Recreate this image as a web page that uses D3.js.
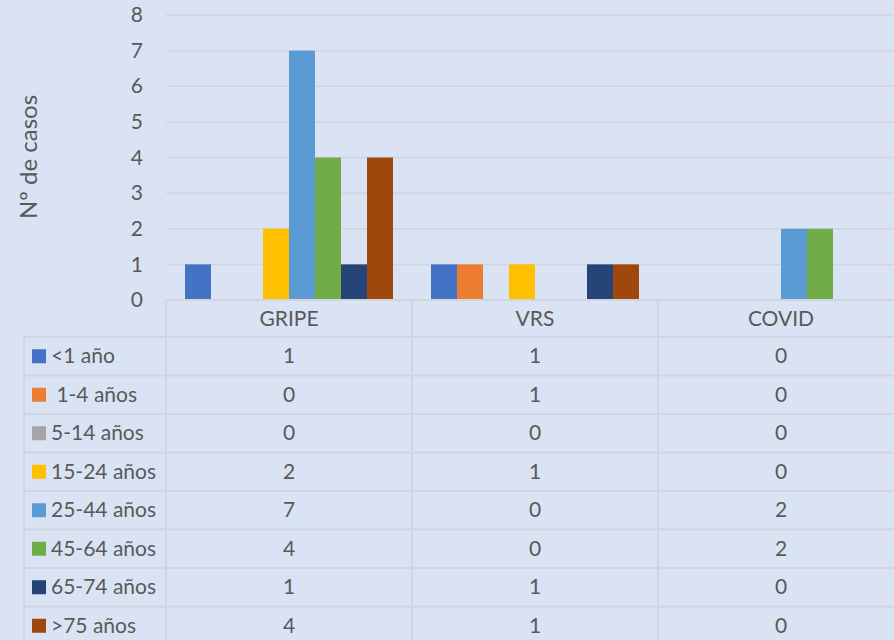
<!DOCTYPE html>
<html>
<head>
<meta charset="utf-8">
<script src="https://cdn.jsdelivr.net/npm/d3@7"></script>
<style>
  body { margin: 0; background: #dae3f3; }
  svg { display: block; }
  text { font-family: Lato, "Open Sans", sans-serif; fill: #595959; }
</style>
</head>
<body>
<svg id="chart" width="894" height="640"></svg>
<script>
// categories and series
var categories = ["GRIPE", "VRS", "COVID"];
var series = ["<1 año", " 1-4 años", "5-14 años", "15-24 años", "25-44 años", "45-64 años", "65-74 años", ">75 años"];
var colors = ["#4472c4", "#ed7d31", "#a5a5a5", "#ffc000", "#5b9bd5", "#70ad47", "#264478", "#9e480e"];
var values = [
  [1, 1, 0],
  [0, 1, 0],
  [0, 0, 0],
  [2, 1, 0],
  [7, 0, 2],
  [4, 0, 2],
  [1, 1, 0],
  [4, 1, 0]
];
var yTicks = [0, 1, 2, 3, 4, 5, 6, 7, 8];

var svg = d3.select("#chart");
var W = 894, H = 640;
var plotLeft = 166, plotTop = 15, plotBottom = 300;
var tableLeft = 24, headerH = 37, rowH = 38.5;
var gridColor = "#d0d5de";
var fs = "21px";

var x = d3.scaleBand().domain(categories).range([plotLeft, plotLeft + 246 * 3]);
var xs = d3.scaleBand().domain(d3.range(series.length)).range([19, x.bandwidth() - 19]);
var y = d3.scaleLinear().domain([0, 8]).range([plotBottom, plotTop]);

// gridlines
svg.append("g").selectAll("line").data(yTicks.slice(1)).join("line")
  .attr("x1", plotLeft).attr("x2", W)
  .attr("y1", d => y(d)).attr("y2", d => y(d))
  .attr("stroke", gridColor).attr("stroke-width", 1.5);

// y axis labels
var yAxis = d3.axisLeft(y).tickValues(yTicks).tickSize(0).tickPadding(0);
var ya = svg.append("g").attr("transform", "translate(143,0)").call(yAxis);
ya.select(".domain").remove();
ya.selectAll("text").style("font-size", fs).style("font-family", "Lato, sans-serif").attr("fill", "#595959");

// axis title
svg.append("text")
  .attr("transform", "translate(37,157) rotate(-90)")
  .attr("text-anchor", "middle")
  .style("font-size", "24px")
  .text("Nº de casos");

// bars
series.forEach(function (s, i) {
  svg.append("g").selectAll("rect").data(values[i]).join("rect")
    .attr("x", (d, j) => x(categories[j]) + xs(i))
    .attr("width", xs.bandwidth())
    .attr("y", d => y(d))
    .attr("height", d => y(0) - y(d))
    .attr("fill", colors[i]);
});

// data table
var tableBottom = plotBottom + headerH + rowH * series.length;
var tg = svg.append("g");
tg.append("line").attr("x1", plotLeft).attr("x2", W).attr("y1", plotBottom).attr("y2", plotBottom)
  .attr("stroke", gridColor).attr("stroke-width", 2);
d3.range(series.length + 1).forEach(function (r) {
  var yy = plotBottom + headerH + r * rowH;
  tg.append("line").attr("x1", tableLeft).attr("x2", W).attr("y1", yy).attr("y2", yy)
    .attr("stroke", gridColor).attr("stroke-width", 2);
});
tg.append("line").attr("x1", tableLeft).attr("x2", tableLeft)
  .attr("y1", plotBottom + headerH).attr("y2", tableBottom)
  .attr("stroke", gridColor).attr("stroke-width", 2);
categories.forEach(function (c) {
  tg.append("line").attr("x1", x(c)).attr("x2", x(c))
    .attr("y1", plotBottom).attr("y2", tableBottom)
    .attr("stroke", gridColor).attr("stroke-width", 2);
});

// header labels
tg.selectAll("text.cat").data(categories).join("text").attr("class", "cat")
  .attr("x", d => x(d) + x.bandwidth() / 2)
  .attr("y", plotBottom + headerH / 2 + 7)
  .attr("text-anchor", "middle")
  .style("font-size", fs)
  .text(d => d);

// rows
series.forEach(function (s, i) {
  var cy = plotBottom + headerH + i * rowH + rowH / 2;
  tg.append("rect").attr("x", 32).attr("y", cy - 7).attr("width", 14).attr("height", 14).attr("fill", colors[i]);
  tg.append("text").attr("x", 51).attr("y", cy + 7).style("font-size", fs)
    .attr("xml:space", "preserve").style("white-space", "pre").text(s);
  values[i].forEach(function (v, j) {
    tg.append("text")
      .attr("x", x(categories[j]) + x.bandwidth() / 2)
      .attr("y", cy + 7)
      .attr("text-anchor", "middle")
      .style("font-size", fs)
      .text(v);
  });
});
</script>
</body>
</html>
